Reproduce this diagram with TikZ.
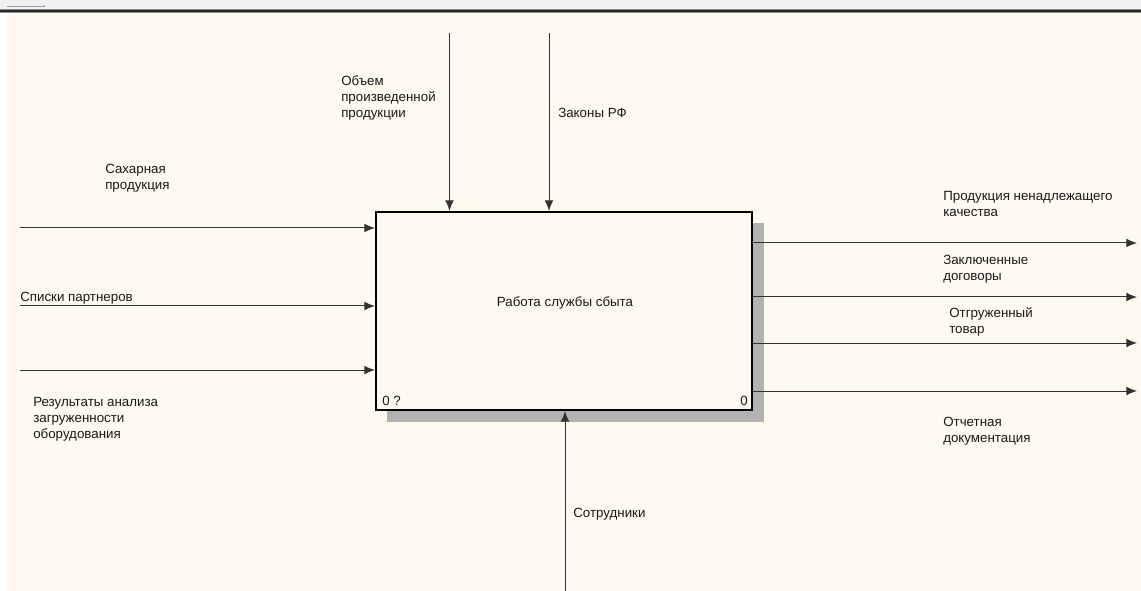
\documentclass[tikz,border=0pt]{standalone}
\usepackage{fontspec}
\setmainfont{Liberation Sans}
\usetikzlibrary{arrows.meta}
\usetikzlibrary{positioning}
\definecolor{idefbg}{RGB}{255,250,240}

\begin{document}
\begin{tikzpicture}
	[
	x=0.75pt, y=-0.75pt,
	> = {Latex[length=8pt,width=6.5pt]},
	every node/.style = {font=\fontsize{10pt}{12pt}\selectfont, inner sep=0pt, text=black!90},
	lbl/.style = {anchor=base west, align=left},
	flow/.style = {->, draw=black!80, line width=0.75pt},
	funcbox/.style = {draw, line width=1.5pt, fill=idefbg, minimum width=282pt, minimum height=148.5pt},
	shadow/.style = {fill=black!30, draw=none}
	]
	\useasboundingbox (0,0) rectangle (1141,591);
	\fill[idefbg] (0,0) rectangle (1141,591);
	\fill[black!6] (0,0) rectangle (1141,9);
	\draw[black!40] (7,6.5) -- (44,6.5) -- (44,5);
	\fill[black!45] (0,9) rectangle (1141,13);
	\draw[black!85, line width=1.2pt] (0,11) -- (1141,11);
	\fill[white] (0,13) rectangle (7,591);

	\fill[shadow] (752,223) rectangle (764,422);
	\fill[shadow] (387,410) rectangle (764,422);
	\node[funcbox] (func) at (564,311) {};
	\node[anchor=base] (ftitle) at (565,306) {Работа службы сбыта};
	\node[anchor=base west] (fnum) at (382,405) {0 ?};
	\node[anchor=base east] (fnode) at (748,405) {0};

	\coordinate (in1) at (20,228);
	\coordinate (in2) at (20,306);
	\coordinate (in3) at (20,370);
	\coordinate (ctl1) at (449.5,33);
	\coordinate (ctl2) at (549,33);
	\coordinate (mech) at (565,591);
	\coordinate (out1) at (1137,243);
	\coordinate (out2) at (1137,297);
	\coordinate (out3) at (1137,343);
	\coordinate (out4) at (1137,391);

	\draw[flow] (in1) -- (func.west |- in1);
	\draw[flow] (in2) -- (func.west |- in2);
	\draw[flow] (in3) -- (func.west |- in3);
	\draw[flow] (ctl1) -- (func.north -| ctl1);
	\draw[flow] (ctl2) -- (func.north -| ctl2);
	\draw[flow] (mech) -- (func.south -| mech);
	\draw[flow] (func.east |- out1) -- (out1);
	\draw[flow] (func.east |- out2) -- (out2);
	\draw[flow] (func.east |- out3) -- (out3);
	\draw[flow] (func.east |- out4) -- (out4);

	\node[lbl] (lsugar) at (105,190) {Сахарная\\продукция};
	\node[lbl] (lpartners) at (20,301) {Списки партнеров};
	\node[lbl] (lresults) at (33,438) {Результаты анализа\\загруженности\\оборудования};
	\node[lbl] (lvolume) at (341,118) {Объем\\произведенной\\продукции};
	\node[lbl] (llaws) at (558,118) {Законы РФ};
	\node[lbl] (lstaff) at (573,517) {Сотрудники};
	\node[lbl] (ldefect) at (943,217) {Продукция ненадлежащего\\качества};
	\node[lbl] (lcontracts) at (943,281) {Заключенные\\договоры};
	\node[lbl] (lshipped) at (949,334) {Отгруженный\\товар};
	\node[lbl] (lreports) at (943,442) {Отчетная\\документация};
\end{tikzpicture}
\end{document}
